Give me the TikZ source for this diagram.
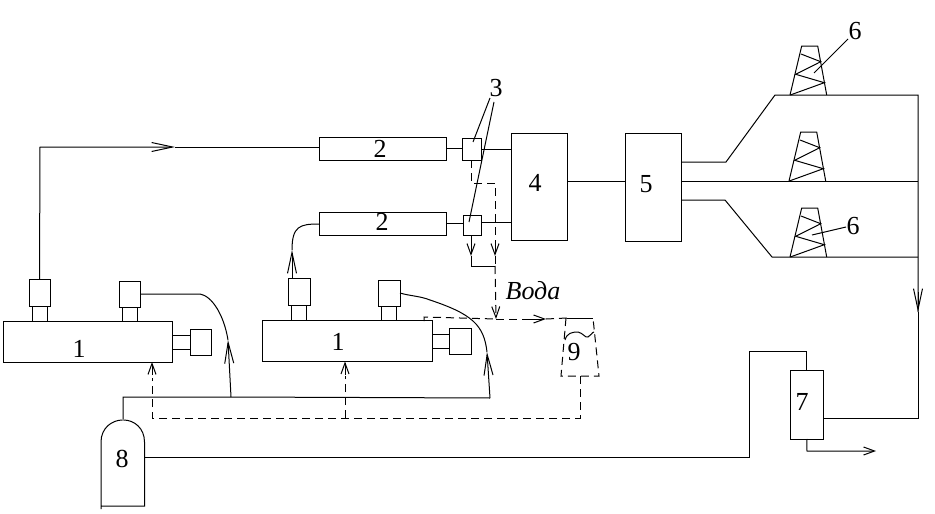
\documentclass[tikz,border=0pt]{standalone}
\usepackage{fontspec}
\setmainfont{Liberation Serif}
\usetikzlibrary{arrows.meta}
\tikzset{
  box/.style 2 args={draw=black,minimum width=#1pt,minimum height=#2pt,inner sep=0pt,outer sep=0pt},
  num/.style={inner sep=0pt,font=\fontsize{26}{28}\selectfont},
  flowdash/.style={dash pattern=on 8pt off 5pt},
  short/.tip={Straight Barb[length=11pt,width=8pt]},
  long/.tip={Straight Barb[length=21pt,width=9pt]},
  derrick/.pic={
    \draw (-18,0) -- (-6.3,-49) -- (9.7,-49) -- (18.7,0);
    \draw (-7,-41) -- (12.7,-33.3) -- (-12.3,-20.7) -- (16.3,-12.3) -- (-17.7,0);
  }
}
\begin{document}
\begin{tikzpicture}[x=1pt,y=-1pt,line width=1pt]
    \useasboundingbox (0,0) rectangle (935,514);
    % compressors
    \node[box={169}{41}] (compL) at (87.5,341.5) {};
    \node[box={21}{27}] (pumpLa) at (39.5,292.5) {};
    \node[box={21}{26}] (pumpLb) at (129.5,294) {};
    \node[box={21}{26}] (motorL) at (200.5,342) {};
    \node[box={170}{41}] (compR) at (347,341) {};
    \node[box={22}{27}] (pumpRa) at (299,291.5) {};
    \node[box={22}{26}] (pumpRb) at (389,293) {};
    \node[box={22}{26}] (motorR) at (460,341) {};
    \foreach \p/\c in {pumpLa/compL,pumpLb/compL,pumpRa/compR,pumpRb/compR} {
      \draw ([xshift=-7.5pt]\p.south) -- ([xshift=-7.5pt]\p.south |- \c.north);
      \draw ([xshift=7.5pt]\p.south) -- ([xshift=7.5pt]\p.south |- \c.north);
    }
    \foreach \m/\c in {motorL/compL,motorR/compR} {
      \draw ([yshift=7pt]\m.west) -- ([yshift=7pt]\m.west -| \c.east);
      \draw ([yshift=-7pt]\m.west) -- ([yshift=-7pt]\m.west -| \c.east);
    }
    % main units
    \node[box={127}{23}] (pipeU) at (382.5,148.5) {};
    \node[box={127}{23}] (pipeL) at (382.5,223.5) {};
    \node[box={19}{22}] (valveU) at (471.5,149) {};
    \node[box={18}{20}] (valveL) at (472,225) {};
    \node[box={56}{107}] (unit4) at (539,186.5) {};
    \node[box={56}{108}] (unit5) at (653,187) {};
    \node[box={33.5}{69}] (unit7) at (806.75,404.5) {};
    % numbers
    \node[num] (n1a) at (79,349) {1};
    \node[num] (n1b) at (338,342) {1};
    \node[num] (n2a) at (380,149) {2};
    \node[num] (n2b) at (382,222) {2};
    \node[num] (n3) at (496,88) {3};
    \node[num] (n4) at (535,183) {4};
    \node[num] (n5) at (646,184) {5};
    \node[num] (n6a) at (855,31) {6};
    \node[num] (n6b) at (853,226) {6};
    \node[num] (n7) at (802,402) {7};
    \node[num] (n8) at (122,459) {8};
    \node[num] (n9) at (574,352) {9};
    \node[inner sep=0pt,font=\fontsize{26}{28}\selectfont\itshape] (voda) at (533,291) {Вода};
    % upper line
    \coordinate (upCorner) at (40,147);
    \coordinate (upArrow) at (175,147);
    \draw[-long] (pumpLa.north) -- (upCorner) -- (upArrow);
    \draw (upArrow) -- (upArrow -| pipeU.west);
    \draw (pipeU.east) -- (pipeU.east -| valveU.west);
    \draw (valveU.east) -- (valveU.east -| unit4.west);
    % lower line
    \coordinate (lowArrow) at (292,250);
    \draw[-long] (292,278) -- (lowArrow);
    \draw (lowArrow) .. controls (292,226) and (300,224) .. (pipeL.west |- 0,224);
    \draw (pipeL.east |- 0,223) -- (valveL.west |- 0,223);
    \draw (valveL.east |- 0,222) -- (unit4.west |- 0,222);
    \draw (unit4.east |- 0,181) -- (unit5.west |- 0,181);
    % gas feed
    \node[inner sep=0pt,minimum size=0pt] (tankTop) at (123,420) {};
    \node[inner sep=0pt,minimum size=0pt] (tankSide) at (144.5,457) {};
    \draw (101,509) -- (101,442) .. controls (101,428) and (112,420) .. (tankTop)
      .. controls (134,420) and (144.5,428) .. (144.5,442) -- (144.5,506) -- (101,506);
    \coordinate (feedL) at (231,397);
    \coordinate (feedR) at (490,398);
    \coordinate (arrL) at (228,340);
    \coordinate (arrR) at (487,352);
    \draw (tankTop) -- (123,397) -- (feedL) -- (feedR);
    \draw[-long] (feedL) -- (arrL);
    \draw (arrL) .. controls (224,315) and (212,296) .. (200,294) -- (165,294) -- (pumpLb.east);
    \draw[-long] (feedR) -- (arrR);
    \draw (arrR) .. controls (484,325) and (472,314) .. (430,300) .. controls (420,296) and (410,296) .. (pumpRb.east);
    % wells
    \draw (unit5.east |- 0,162) -- (726,162) -- (775,95) -- (918,95) -- (918,312);
    \draw (unit5.east |- 0,181) -- (918,181);
    \draw (unit5.east |- 0,200) -- (725,200) -- (772,257) -- (918,257);
    \pic (derrickA) at (808,95) {derrick};
    \pic (derrickB) at (807,181) {derrick};
    \pic (derrickC) at (808,257) {derrick};
    \draw (848,39) -- (814,73);
    \draw (846,227) -- (812,235);
    % return to separator
    \coordinate (retArrow) at (918,312);
    \draw[-long] (918,292) -- (retArrow);
    \draw (retArrow) -- (918,418) -- (unit7.east |- 0,418);
    \draw (tankSide) -- (749,457) -- (749,351) -- (806,351) -- (unit7.north -| 806,0);
    \draw[-short] (unit7.south) -- (807,451) -- (876,451);
    % leaders of 3
    \draw (490,98) -- (473,142);
    \draw (494,102) -- (469,222);
    % water
    \coordinate (wJoin) at (496,319);
    \coordinate (wBend) at (495,266);
    \draw[flowdash] (471,160) -- (471,183) -- (495,183) -- (495,245);
    \draw[-short] (495,245) -- (495,256);
    \draw[flowdash] (495,256) -- (wBend);
    \draw[-short] (471,235) -- (471,256);
    \draw (471,256) -- (471,266) -- (wBend);
    \draw[flowdash,-short] (wBend) -- (wJoin);
    \draw[flowdash] (424,321) -- (424,317) -- (wJoin);
    \draw[-short] (530,319) -- (546,319);
    \draw[flowdash] (wJoin) -- (530,319);
    \draw[flowdash] (546,319) -- (567,318);
    % cooler 9
    \draw (567,318) -- (593,318);
    \draw[flowdash] (566,318) -- (561,376) -- (599,376) -- (593,318);
    \draw (565,340) .. controls (567,333) and (572,332) .. (578,332) .. controls (583,333) and (585,338) .. (588,337) .. controls (591,336) and (592,332) .. (594,332);
    \coordinate (coolOut) at (580,376);
    \coordinate (coolBack) at (580,418);
    \coordinate (backEnd) at (152,418);
    \draw[flowdash] (coolOut) -- (coolBack) -- (backEnd) -- (152,378);
    \draw[-short] (152,375) -- (compL.south -| 152,0);
    \draw[flowdash] (345,418) -- (345,376);
    \draw[-short] (345,375) -- (compR.south -| 345,0);
\end{tikzpicture}
\end{document}
